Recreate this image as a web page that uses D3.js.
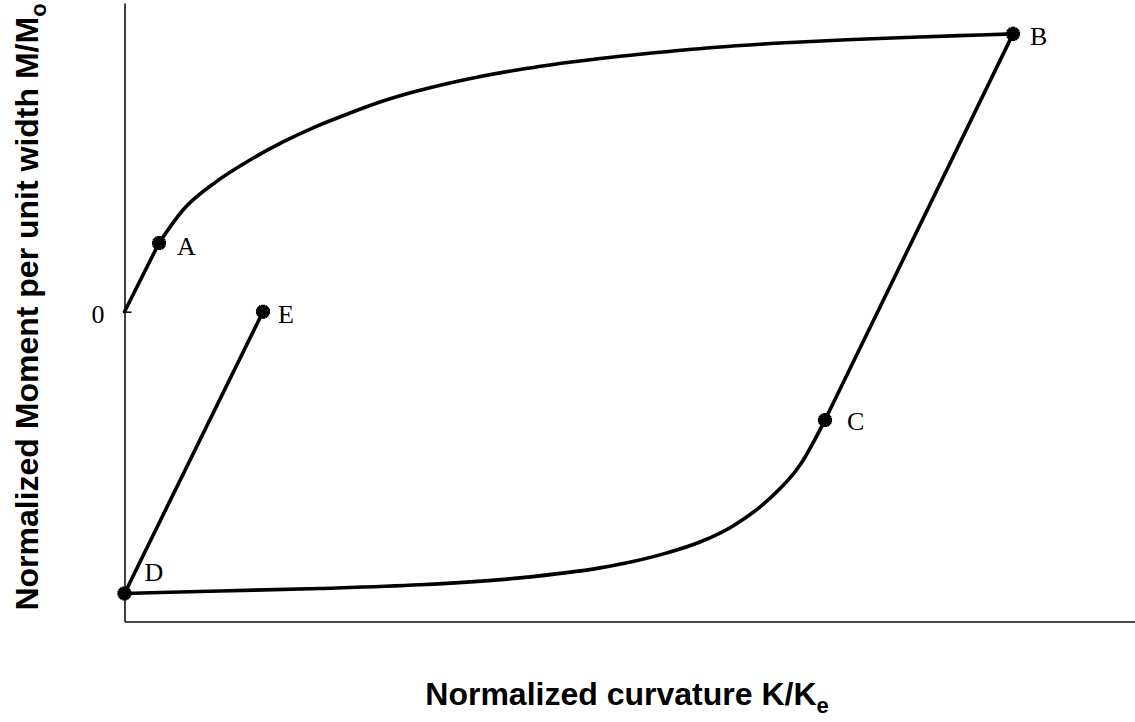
<!DOCTYPE html>
<html>
<head>
<meta charset="utf-8">
<script src="https://cdn.jsdelivr.net/npm/d3@7"></script>
<style>
  html, body { margin: 0; padding: 0; background: #fff; }
  svg { display: block; }
</style>
</head>
<body>
<svg id="chart" width="1135" height="722"></svg>
<script>
// Normalized curvature (x) and moment (y) along the moment–curvature loop.
// Elastic loading O → A
const loadElastic = [[0, 0], [0.345, 0.247]];
// Plastic loading A → B
const loadPlastic = [
  [0.345, 0.247], [0.585, 0.366], [0.925, 0.470], [1.255, 0.546], [1.585, 0.611],
  [1.925, 0.668], [2.255, 0.715], [2.585, 0.758], [2.925, 0.794], [3.255, 0.823],
  [3.585, 0.848], [3.925, 0.870], [4.255, 0.888], [4.755, 0.911], [5.225, 0.929],
  [5.885, 0.951], [6.555, 0.967], [7.225, 0.979], [7.885, 0.988], [8.555, 0.996],
  [8.885, 1.0]
];
// Elastic unloading B → C
const unloadElastic = [[8.885, 1.0], [7.005, -0.390]];
// Reverse plastic branch between D and C (listed from D up to C)
const unloadPlastic = [
  [0, -1.014], [0.955, -1.005], [1.955, -0.996], [2.955, -0.983], [3.955, -0.958],
  [4.755, -0.922], [5.085, -0.899], [5.425, -0.868], [5.755, -0.829], [6.085, -0.771],
  [6.425, -0.681], [6.755, -0.552], [7.005, -0.390]
];
// Elastic reloading D → E
const reloadElastic = [[0, -1.014], [1.385, 0]];

const pointNames = ["A", "B", "C", "D", "E"];
const pointX = [0.345, 8.885, 7.005, 0, 1.385];
const pointY = [0.247, 1.0, -0.390, -1.014, 0];
// label offsets in pixels (dx, dy)
const labelDx = [18, 17, 22, 20, 15];
const labelDy = [12, 11, 10, -12, 11];

const yTicks = [0];

const svg = d3.select("#chart");
const x = d3.scaleLinear().domain([0, 10.105]).range([124.5, 1135]);
const y = d3.scaleLinear().domain([-1.115, 1.111]).range([621.5, 3]);

// Axes
const yAxis = d3.axisLeft(y).tickValues(yTicks).tickSize(-7).tickSizeOuter(0).tickFormat(d3.format("d"));
const xAxis = d3.axisBottom(x).tickValues([]).tickSizeOuter(0);

const gy = svg.append("g").attr("transform", "translate(124.5,0)").call(yAxis);
const gx = svg.append("g").attr("transform", "translate(0,621.5)").call(xAxis);

[gx, gy].forEach(g => {
  g.select(".domain").attr("stroke", "#111").attr("stroke-width", 1.6);
  g.selectAll(".tick line").attr("stroke", "#111").attr("stroke-width", 1.6);
});
gy.selectAll(".tick text")
  .attr("x", -20)
  .attr("dy", "0.4em")
  .attr("font-family", "'Liberation Serif', 'Times New Roman', serif")
  .attr("font-size", 26)
  .attr("fill", "#000");

// Curves
const lineLin = d3.line().x(d => x(d[0])).y(d => y(d[1]));
const lineCurve = d3.line().x(d => x(d[0])).y(d => y(d[1])).curve(d3.curveMonotoneX);

const segs = [
  { data: loadElastic, gen: lineLin },
  { data: loadPlastic, gen: lineCurve },
  { data: unloadElastic, gen: lineLin },
  { data: unloadPlastic, gen: lineCurve },
  { data: reloadElastic, gen: lineLin }
];
svg.append("g").selectAll("path").data(segs).join("path")
  .attr("d", s => s.gen(s.data))
  .attr("fill", "none")
  .attr("stroke", "#000")
  .attr("stroke-width", 3.6)
  .attr("stroke-linejoin", "round")
  .attr("stroke-linecap", "round");

// Point markers
const pts = pointNames.map((n, i) => ({ n, x: pointX[i], y: pointY[i], dx: labelDx[i], dy: labelDy[i] }));
const mk = svg.append("g").selectAll("g").data(pts).join("g")
  .attr("transform", d => `translate(${x(d.x)},${y(d.y)})`);
mk.append("path").attr("d", d3.symbol(d3.symbolCross, 110)()).attr("fill", "#000");
mk.append("path").attr("d", d3.symbol(d3.symbolCross, 110)()).attr("transform", "rotate(45)").attr("fill", "#000");
mk.append("circle").attr("r", 5).attr("fill", "#000");

// Point labels
svg.append("g").selectAll("text").data(pts).join("text")
  .attr("x", d => x(d.x) + d.dx)
  .attr("y", d => y(d.y) + d.dy)
  .attr("font-family", "'Liberation Serif', 'Times New Roman', serif")
  .attr("font-size", 26)
  .attr("fill", "#000")
  .text(d => d.n);

// Axis titles
const xt = svg.append("text")
  .attr("x", 627).attr("y", 705)
  .attr("text-anchor", "middle")
  .attr("font-family", "'Liberation Sans', Arial, sans-serif")
  .attr("font-weight", "bold")
  .attr("font-size", 32)
  .attr("fill", "#000");
xt.append("tspan").text("Normalized curvature K/K");
xt.append("tspan").attr("font-size", 22).attr("dy", 8).text("e");

const yt = svg.append("text")
  .attr("transform", "translate(38,307) rotate(-90)")
  .attr("text-anchor", "middle")
  .attr("font-family", "'Liberation Sans', Arial, sans-serif")
  .attr("font-weight", "bold")
  .attr("font-size", 32)
  .attr("fill", "#000");
yt.append("tspan").text("Normalized Moment per unit width M/M");
yt.append("tspan").attr("font-size", 22).attr("dy", 8).text("o");
</script>
</body>
</html>
